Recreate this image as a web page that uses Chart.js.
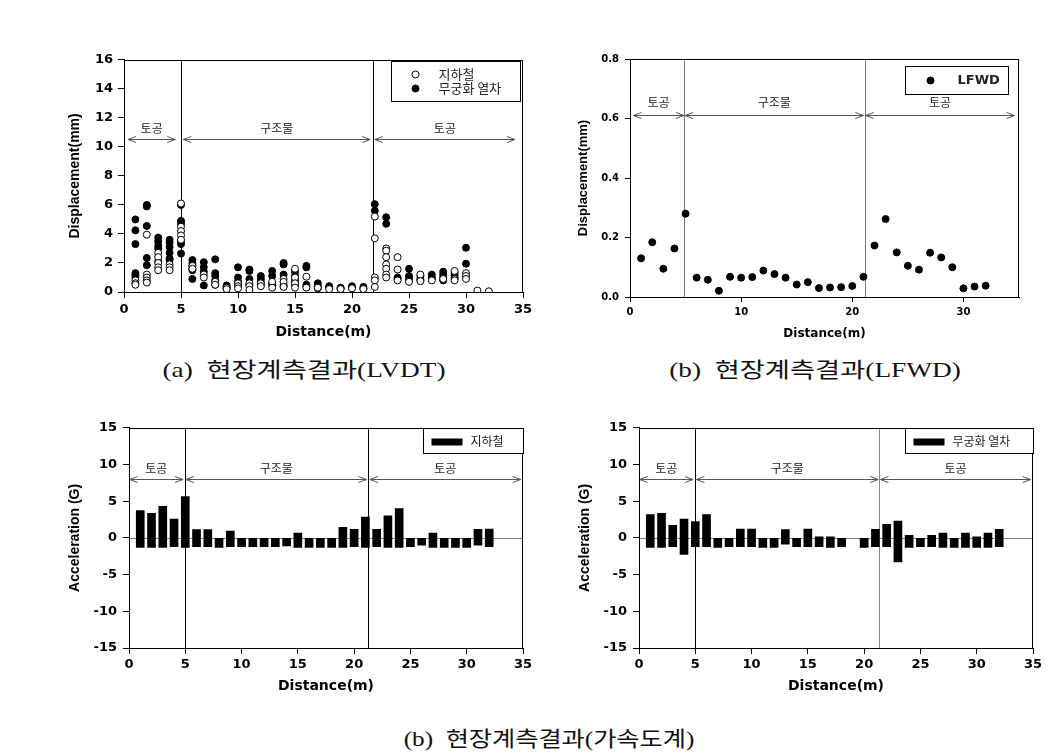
<!DOCTYPE html>
<html lang="ko">
<head>
<meta charset="utf-8">
<title>현장계측결과</title>
<script src="https://cdn.jsdelivr.net/npm/chart.js@4.4.1/dist/chart.umd.min.js"></script>
<style>
  html, body { margin: 0; padding: 0; background: #fff; }
  #page { position: relative; width: 1062px; height: 755px; overflow: hidden; background: #fff; }
  canvas { position: absolute; }
  .cap { position: absolute; font-family: "Liberation Serif", "Noto Sans CJK KR", serif; font-size: 21px; color: #111;
         white-space: pre; transform: translate(-50%, -50%) scaleX(1.3); }
</style>
</head>
<body>
<div id="page">
  <canvas id="cLvdt" width="474" height="298" style="left:63px;top:47px"></canvas>
  <canvas id="cLfwd" width="461" height="298" style="left:572px;top:47px"></canvas>
  <canvas id="cAccSub" width="474" height="285" style="left:63px;top:414px"></canvas>
  <canvas id="cAccKtx" width="474" height="285" style="left:573px;top:414px"></canvas>
  <div class="cap" style="left:304px;top:368px">(a)  현장계측결과(LVDT)</div>
  <div class="cap" style="left:815px;top:368px">(b)  현장계측결과(LFWD)</div>
  <div class="cap" style="left:549px;top:737px;transform:translate(-50%,-50%) scaleX(1.2)">(b)  현장계측결과(가속도계)</div>
</div>
<script>
// 측점 거리 (m)
const distances = [1, 2, 3, 4, 5, 6, 7, 8, 9, 10, 11, 12, 13, 14, 15, 16,
                   17, 18, 19, 20, 21, 22, 23, 24, 25, 26, 27, 28, 29, 30, 31, 32];
const zoneNames = ['토공', '구조물', '토공'];

// (a) LVDT 변위 - 측점별 여러 회 측정값
const subwayLvdt = [
  [0.8, 0.6, 0.5], [3.95, 1.2, 1.0, 0.8, 0.65], [2.7, 2.4, 2.0, 1.7, 1.5], [1.9, 1.7, 1.5],
  [6.1, 4.5, 4.2, 3.9, 3.6], [1.8, 1.6], [1.2, 1.0], [0.7, 0.5],
  [0.3, 0.2], [0.6, 0.4, 0.25], [0.6, 0.4, 0.15], [0.6, 0.4],
  [0.7, 0.3], [0.9, 0.7, 0.35], [1.6, 1.0, 0.6, 0.3], [1.05, 0.3],
  [0.3], [0.2], [0.2], [0.25],
  [0.2], [5.2, 3.7, 1.0, 0.8, 0.35], [3.0, 2.85, 2.4, 1.9, 1.6, 1.2, 1.0], [2.4, 1.55, 0.8],
  [0.7], [1.2, 0.75], [0.8], [0.9],
  [1.45, 0.9, 0.8], [1.3, 1.1, 0.9], [0.1], [0.05]
];
const ktxLvdt = [
  [5.0, 4.25, 3.3, 1.3, 1.15, 1.0], [6.0, 5.9, 4.55, 2.35, 1.85], [3.75, 3.5, 3.2, 3.0, 2.1], [3.6, 3.4, 3.1, 2.7, 2.3, 2.2],
  [6.0, 4.9, 4.7, 3.5, 3.3, 2.65], [2.2, 2.0, 1.8, 1.6, 1.5, 0.9], [2.05, 1.7, 1.4, 0.45], [2.25, 1.3, 1.1, 0.8, 0.5],
  [0.45, 0.35, 0.25], [1.7, 1.0, 0.7, 0.45], [1.55, 1.45, 0.9, 0.5], [1.1, 0.9, 0.7, 0.5],
  [1.45, 1.1, 0.6, 0.45], [2.0, 1.9, 1.2, 0.5, 0.4], [1.4, 1.1, 0.8, 0.5], [1.8, 1.7, 0.5, 0.35],
  [0.6, 0.4, 0.25], [0.4, 0.3], [0.3, 0.25], [0.4, 0.3],
  [0.35, 0.25], [6.05, 5.6], [5.15, 4.7], [1.0, 0.9],
  [1.6, 1.1, 1.0, 0.8], [1.1, 0.9, 0.8], [1.2, 1.0, 0.9], [1.4, 1.2, 1.0, 0.8],
  [1.3, 1.15, 1.0], [3.05, 1.95], [], []
];

// (b) LFWD 변위
const lfwd = [0.130, 0.184, 0.095, 0.163, 0.280, 0.065, 0.058, 0.021, 0.068, 0.065, 0.067, 0.089,
              0.077, 0.065, 0.042, 0.050, 0.030, 0.032, 0.033, 0.037, 0.068, 0.173, 0.262, 0.150,
              0.105, 0.092, 0.149, 0.133, 0.100, 0.029, 0.035, 0.038];

// 가속도 (최대 / 최소)
const subwayAccTop = [3.72, 3.36, 4.3, 2.55, 5.64, 1.12, 1.12, 0, 0.94, 0, 0, 0, 0, 0, 0.67, 0,
                      0, 0, 1.43, 1.16, 2.82, 1.16, 3.0, 4.0, 0, 0, 0.67, 0, 0, 0, 1.16, 1.2];
const subwayAccBottom = [-1.3, -1.3, -1.3, -1.2, -1.3, -1.2, -1.2, -1.3, -1.2, -1.2, -1.2, -1.2, -1.2, -1.1, -1.3, -1.3,
                         -1.3, -1.3, -1.3, -1.2, -1.3, -1.2, -1.3, -1.3, -1.2, -1.0, -1.3, -1.3, -1.3, -1.3, -1.0, -1.2];
const ktxAccTop = [3.18, 3.36, 1.7, 2.55, 2.24, 3.18, 0, 0, 1.2, 1.2, 0, 0, 1.12, 0, 1.2, 0.13,
                   0.13, 0, null, 0, 1.16, 1.84, 2.28, 0.36, 0, 0.36, 0.67, 0, 0.67, 0.13, 0.67, 1.16];
const ktxAccBottom = [-1.3, -1.3, -1.2, -2.24, -1.2, -1.2, -1.3, -1.2, -1.2, -1.2, -1.3, -1.3, -0.85, -1.2, -1.2, -1.2,
                      -1.3, -1.2, null, -1.3, -1.2, -1.2, -3.27, -1.3, -1.2, -1.2, -1.3, -1.3, -1.3, -1.3, -1.3, -1.2];

// 구간 경계 (m)
const lvdtDividers = [5, 21.8];
const lvdtZones = [[0.35, 4.5], [5.2, 21.6], [22.0, 34.3]];
const lfwdDividers = [4.9, 21.1];
const lfwdZones = [[0.3, 4.85], [4.95, 21.0], [21.2, 34.6]];
const accSubDividers = [4.95, 21.25];
const accSubZones = [[0.05, 4.8], [5.05, 21.1], [21.4, 34.8]];
const accKtxDividers = [5.0, 21.35];
const accKtxZones = [[0.05, 4.8], [5.1, 21.25], [21.45, 34.8]];

const SANS = '"DejaVu Sans", sans-serif';
const ARIAL = '"Liberation Sans", Arial, sans-serif';
const KOR = '"Noto Sans CJK KR", sans-serif';

// 상자, 구간선, 화살표, 범례
const framePlugin = {
  id: 'frame',
  beforeDatasetsDraw(chart, args, o) {
    const {ctx, chartArea: a, scales: {x, y}} = chart;
    ctx.save();
    ctx.lineWidth = 1;
    if (o.zeroLine) {
      const yz = Math.round(y.getPixelForValue(0)) + 0.5;
      ctx.strokeStyle = o.zeroLine;
      ctx.beginPath(); ctx.moveTo(a.left, yz); ctx.lineTo(a.right, yz); ctx.stroke();
    }
    o.dividers.forEach((d, i) => {
      const px = Math.round(x.getPixelForValue(d)) + 0.5;
      ctx.strokeStyle = o.dividerColors[i];
      ctx.beginPath(); ctx.moveTo(px, a.top); ctx.lineTo(px, a.bottom); ctx.stroke();
    });
    const ay = Math.round(y.getPixelForValue(o.arrowY)) + 0.5;
    const ly = y.getPixelForValue(o.labelY);
    ctx.strokeStyle = '#555';
    ctx.fillStyle = '#222';
    ctx.font = '12px ' + KOR;
    ctx.textAlign = 'center';
    ctx.textBaseline = 'middle';
    o.zones.forEach(([s, e], i) => {
      const x1 = x.getPixelForValue(s), x2 = x.getPixelForValue(e);
      ctx.beginPath();
      ctx.moveTo(x1, ay); ctx.lineTo(x2, ay);
      ctx.moveTo(x1 + 8, ay - 3); ctx.lineTo(x1, ay); ctx.lineTo(x1 + 8, ay + 3);
      ctx.moveTo(x2 - 8, ay - 3); ctx.lineTo(x2, ay); ctx.lineTo(x2 - 8, ay + 3);
      ctx.stroke();
      ctx.fillText(zoneNames[i], (x1 + x2) / 2, ly);
    });
    ctx.restore();
  },
  afterDraw(chart, args, o) {
    const {ctx, chartArea: a} = chart;
    ctx.save();
    ctx.strokeStyle = '#000';
    ctx.lineWidth = 1;
    ctx.strokeRect(Math.round(a.left) + 0.5, Math.round(a.top) + 0.5,
                   Math.round(a.right - a.left) - 1, Math.round(a.bottom - a.top));
    const L = o.legend;
    const bx = Math.round(a.right - L.right - L.width) + 0.5;
    const by = Math.round(a.top + L.top) + 0.5;
    ctx.fillStyle = '#fff';
    ctx.fillRect(bx, by, L.width, L.height);
    ctx.strokeRect(bx, by, L.width, L.height);
    chart.data.datasets.forEach((ds, i) => {
      const ry = by + L.rowStart + i * L.rowGap;
      if (L.kind === 'point') {
        ctx.beginPath();
        ctx.arc(bx + L.markX, ry, ds.pointRadius, 0, Math.PI * 2);
        ctx.fillStyle = ds.backgroundColor;
        ctx.fill();
        ctx.strokeStyle = ds.borderColor;
        ctx.stroke();
      } else {
        ctx.fillStyle = ds.backgroundColor;
        ctx.fillRect(bx + L.markX, ry - 3, 31, 7);
      }
      ctx.fillStyle = '#222';
      ctx.font = L.font;
      ctx.textAlign = 'left';
      ctx.textBaseline = 'middle';
      ctx.fillText(ds.label, bx + L.textX, ry);
    });
    ctx.restore();
  }
};

function axis(o) {
  return {
    type: 'linear',
    min: o.min, max: o.max, offset: false,
    border: {display: true, color: '#000', width: 1},
    grid: {display: true, drawOnChartArea: false, drawTicks: true, tickLength: o.tick, color: '#000', offset: false},
    ticks: {stepSize: o.step, color: '#000', padding: o.pad, includeBounds: o.bounds !== false,
            font: {family: SANS, size: o.fs, weight: 'bold'}, callback: o.cb || (v => v)},
    title: {display: true, text: o.title, color: '#000',
            font: {family: o.vertical ? ARIAL : SANS, size: o.tfs, weight: 'bold'}},
    afterFit: s => { if (o.vertical) s.width = o.size; else s.height = o.size; }
  };
}

function baseOptions(xo, yo, frame) {
  return {
    responsive: false, animation: false,
    layout: {padding: {top: 10, right: 14, left: 0, bottom: 0}},
    scales: {x: axis(xo), y: axis(Object.assign({vertical: true}, yo))},
    plugins: {legend: {display: false}, tooltip: {enabled: false}, frame: frame}
  };
}

const pts = (arr) => distances.flatMap((d, i) => arr[i].map(v => ({x: d, y: v})));

new Chart(document.getElementById('cLvdt'), {
  type: 'scatter',
  data: {datasets: [
    {label: '지하철', data: pts(subwayLvdt), pointRadius: 3.5, borderWidth: 1,
     backgroundColor: '#fff', borderColor: '#000'},
    {label: '무궁화 열차', data: pts(ktxLvdt), pointRadius: 3.5, borderWidth: 1,
     backgroundColor: '#000', borderColor: '#000'}
  ]},
  options: baseOptions(
    {min: 0, max: 35, step: 5, tick: 6, pad: 4, fs: 13, tfs: 14, title: 'Distance(m)', size: 53},
    {min: 0, max: 16, step: 2, tick: 6, pad: 5, fs: 13, tfs: 14, title: 'Displacement(mm)', size: 61},
    {dividers: lvdtDividers, dividerColors: ['#000', '#000'], zones: lvdtZones, arrowY: 10.55, labelY: 11.25,
     legend: {kind: 'point', right: 3, top: 1, width: 129, height: 40, rowStart: 13, rowGap: 14, markX: 24, textX: 47,
              font: '13px ' + KOR}}
  ),
  plugins: [framePlugin]
});

new Chart(document.getElementById('cLfwd'), {
  type: 'scatter',
  data: {datasets: [
    {label: 'LFWD', data: distances.map((d, i) => ({x: d, y: lfwd[i]})), pointRadius: 3.5, borderWidth: 1,
     backgroundColor: '#000', borderColor: '#000'}
  ]},
  options: baseOptions(
    {min: 0, max: 35, step: 10, tick: 5, pad: 4, fs: 10, tfs: 12, title: 'Distance(m)', size: 48, bounds: false},
    {min: 0, max: 0.8, step: 0.2, tick: 5, pad: 6, fs: 10, tfs: 13, title: 'Displacement(mm)', size: 58,
     cb: v => v.toFixed(1)},
    {dividers: lfwdDividers, dividerColors: ['#777', '#777'], zones: lfwdZones, arrowY: 0.613, labelY: 0.655,
     legend: {kind: 'point', right: 11, top: 7, width: 103, height: 28, rowStart: 14, rowGap: 14, markX: 25, textX: 52,
              font: 'bold 13px ' + SANS}}
  ),
  plugins: [framePlugin]
});

function accChart(id, label, top, bottom, dividers, colors, zones, legendWidth) {
  const data = distances.map((d, i) => ({x: d, y: [bottom[i], top[i]]})).filter(p => p.y[1] !== null);
  new Chart(document.getElementById(id), {
    type: 'bar',
    data: {datasets: [{label: label, data: data, backgroundColor: '#000', borderWidth: 0, barThickness: 8}]},
    options: baseOptions(
      {min: 0, max: 35, step: 5, tick: 6, pad: 3, fs: 13, tfs: 14, title: 'Distance(m)', size: 51},
      {min: -15, max: 15, step: 5, tick: 6, pad: 6, fs: 13, tfs: 14, title: 'Acceleration (G)', size: 66},
      {zeroLine: '#808080', dividers: dividers, dividerColors: colors, zones: zones, arrowY: 8, labelY: 9.5,
       legend: {kind: 'bar', right: 0, top: 0, width: legendWidth, height: 25, rowStart: 13, rowGap: 14, markX: 8, textX: 47,
                font: '12px ' + KOR}}
    ),
    plugins: [framePlugin]
  });
}

accChart('cAccSub', '지하철', subwayAccTop, subwayAccBottom, accSubDividers, ['#000', '#000'], accSubZones, 100);
accChart('cAccKtx', '무궁화 열차', ktxAccTop, ktxAccBottom, accKtxDividers, ['#000', '#888'], accKtxZones, 128);
</script>
</body>
</html>
